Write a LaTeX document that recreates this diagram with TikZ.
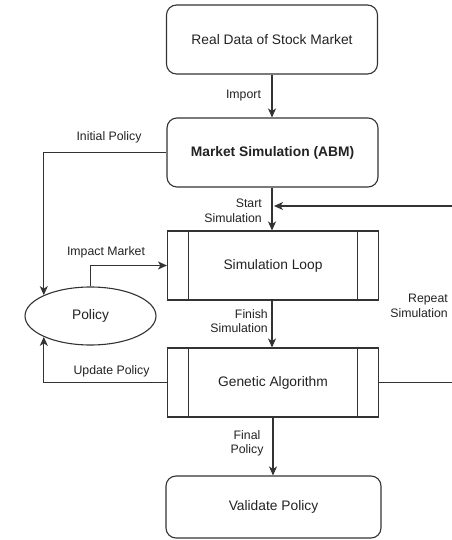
\documentclass[tikz,border=0pt]{standalone}
\usepackage{fontspec}
\setmainfont{Liberation Sans}
\usetikzlibrary{arrows.meta,shapes.geometric}
\definecolor{ln}{HTML}{333333}
\definecolor{tx}{HTML}{222222}
\tikzset{
  box/.style={draw=ln, line width=1.1pt, rounded corners=10pt, inner sep=0pt,
    minimum width=211pt, minimum height=69pt, text=tx,
    font=\fontsize{13.8}{16}\selectfont},
  subproc/.style={draw=ln, line width=1.1pt, inner sep=0pt,
    minimum width=211pt, minimum height=69pt, text=tx,
    font=\fontsize{13.8}{16}\selectfont,
    path picture={
      \draw[ln, line width=1.1pt] ([xshift=21pt]path picture bounding box.north west) -- ([xshift=21pt]path picture bounding box.south west);
      \draw[ln, line width=1.1pt] ([xshift=-21pt]path picture bounding box.north east) -- ([xshift=-21pt]path picture bounding box.south east);
    }},
  oval/.style={draw=ln, line width=1.1pt, ellipse, inner sep=0pt,
    minimum width=131pt, minimum height=58pt, text=tx,
    font=\fontsize{13.8}{16}\selectfont},
  lbl/.style={text=tx, inner sep=0pt, font=\fontsize{12.3}{14.5}\selectfont},
  conn/.style={draw=ln, line width=1.1pt},
  arr/.style={conn, -{Stealth[length=9pt,width=8pt,inset=2.5pt]}},
}
\begin{document}
\begin{tikzpicture}[x=1pt,y=-1pt]
\useasboundingbox (0,0) rectangle (451,540);

\node[box] (real) at (272,39.5) {Real Data of Stock Market};
\node[box] (abm) at (272.5,152.5) {\bfseries Market Simulation (ABM)};
\node[subproc] (loop) at (273,265.5) {Simulation Loop};
\node[subproc] (ga) at (273,382.5) {Genetic Algorithm};
\node[box, minimum width=215pt, minimum height=62pt] (val) at (273.5,507) {Validate Policy};
\node[oval] (policy) at (90.5,316) {Policy};

\coordinate (rA) at (456,0);
\coordinate (tgt) at (274,206);

\draw[arr] (real.south -| 272,0) -- (abm.north -| 272,0);
\draw[arr] (abm.south -| 272,0) -- (loop.north -| 272,0);
\draw[arr] (loop.south -| 272,0) -- (ga.north -| 272,0);
\draw[arr] (ga.south -| 273,0) -- (val.north -| 273,0);
\draw[arr] (abm.west) -| (policy.north west);
\draw[arr] (policy.north) |- (loop.west);
\draw[arr] (ga.west) -| (policy.south west);
\draw[arr] (ga.east) -- (ga.east -| rA) -- (rA |- tgt) -- (tgt);

\node[lbl] (limport) at (243.5,96) {Import};
\node[lbl] (linit) at (109,137) {Initial Policy};
\node[lbl, align=right, anchor=east] (lstart) at (262,211) {Start\\Simulation};
\node[lbl] (limpact) at (106,252) {Impact Market};
\node[lbl, align=right, anchor=east] (lfinish) at (268,321) {Finish\\Simulation};
\node[lbl, align=right, anchor=east] (lrepeat) at (448,306) {Repeat\\Simulation};
\node[lbl] (lupdate) at (111.5,371) {Update Policy};
\node[lbl, align=center] (lfinal) at (247,443.5) {Final\\Policy};
\end{tikzpicture}
\end{document}
